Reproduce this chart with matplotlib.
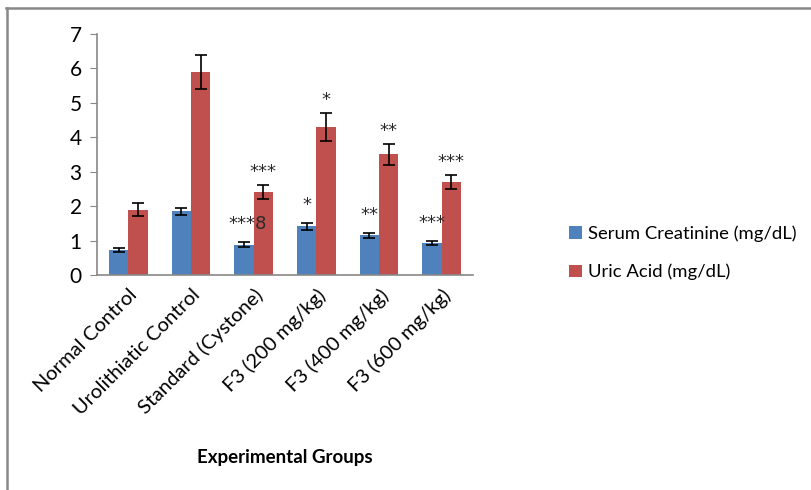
import matplotlib
matplotlib.use("Agg")
import matplotlib.pyplot as plt
import numpy as np
from matplotlib.lines import Line2D

plt.rcParams['font.family'] = ['Lato', 'DejaVu Sans']

groups = ["Normal Control", "Urolithiatic Control", "Standard (Cystone)",
          "F3 (200 mg/kg)", "F3 (400 mg/kg)", "F3 (600 mg/kg)"]
creatinine = [0.72, 1.85, 0.88, 1.42, 1.15, 0.93]
creatinine_err = [0.05, 0.10, 0.08, 0.10, 0.08, 0.07]
uric = [1.9, 5.9, 2.4, 4.3, 3.5, 2.7]
uric_err = [0.2, 0.5, 0.2, 0.4, 0.3, 0.2]
creat_marks = ["", "", "***8", "*", "**", "***"]
uric_marks = ["", "", "***", "*", "**", "***"]
yticks = [0, 1, 2, 3, 4, 5, 6, 7]

blue = "#4F81BD"
red = "#C0504D"

fig = plt.figure(figsize=(8.12, 4.90), dpi=100)
ax = fig.add_axes([0.1195, 0.4388, 0.4630, 0.4918])

x = np.arange(len(groups))
w = 0.31
ax.bar(x - w/2, creatinine, w, color=blue, label="Serum Creatinine (mg/dL)",
       yerr=creatinine_err, error_kw=dict(ecolor="black", elinewidth=1.2, capsize=4.5, capthick=1.2))
ax.bar(x + w/2, uric, w, color=red, label="Uric Acid (mg/dL)",
       yerr=uric_err, error_kw=dict(ecolor="black", elinewidth=1.2, capsize=4.5, capthick=1.2))

star_font = ['DejaVu Sans']
for i in range(len(groups)):
    m = creat_marks[i]
    if m:
        xo = 0.06 if m == "***8" else 0
        ax.text(x[i] - w/2 + xo, creatinine[i] + creatinine_err[i] + 0.52, m,
                ha="center", va="center", fontsize=13, color="#2a2a2a", family=star_font)
    m = uric_marks[i]
    if m:
        ax.text(x[i] + w/2, uric[i] + uric_err[i] + 0.38, m,
                ha="center", va="center", fontsize=13, color="#2a2a2a", family=star_font)

ax.set_xlim(-0.5, len(groups) - 0.5)
ax.set_ylim(0, 7)
ax.set_yticks(yticks)
ax.set_xticks(x)
ax.set_xticklabels(groups, rotation=45, ha="right", rotation_mode="anchor", fontsize=14.5)
ax.tick_params(axis="x", length=0, pad=8)
ax.tick_params(axis="y", length=5, color="#888888", labelsize=15, pad=6)
for s in ["top", "right"]:
    ax.spines[s].set_visible(False)
for s in ["left", "bottom"]:
    ax.spines[s].set_color("#888888")
    ax.spines[s].set_linewidth(1.2)

ax.set_xlabel("Experimental Groups", fontsize=13.5, fontweight="bold", labelpad=22)

ax.legend(loc="center left", bbox_to_anchor=(1.255, 0.092), frameon=False,
          fontsize=13.3, handlelength=0.7, handleheight=0.7, handletextpad=0.35,
          labelspacing=1.2, borderpad=0, borderaxespad=0)

fig.add_artist(Line2D([6/812, 1.0], [1 - 8.5/490, 1 - 8.5/490], color="#888888", lw=1.8,
                      transform=fig.transFigure))
fig.add_artist(Line2D([6.5/812, 6.5/812], [0, 1 - 8.5/490], color="#888888", lw=1.8,
                      transform=fig.transFigure))

fig.savefig("out.png", dpi=100)
